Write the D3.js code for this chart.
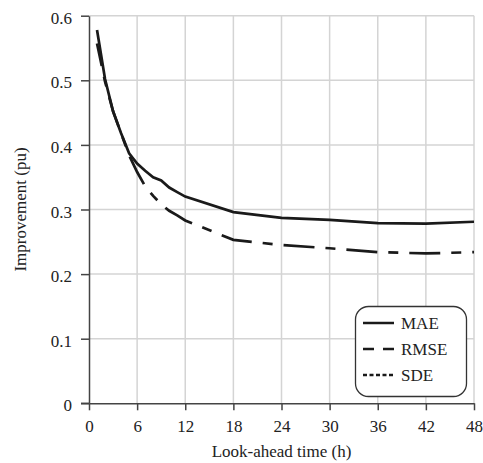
<!DOCTYPE html>
<html><head><meta charset="utf-8">
<script src="https://cdn.jsdelivr.net/npm/d3@7"></script>
<style>body{margin:0;background:#fff}svg{display:block}</style>
</head><body>
<script>
const hours = [1,2,3,4,5,6,7,8,9,10,11,12,18,24,30,36,42,48];
const maeValues  = [0.578,0.502,0.452,0.418,0.387,0.371,0.360,0.350,0.345,0.334,0.327,0.320,0.296,0.287,0.284,0.279,0.278,0.281];
const rmseValues = [0.557,0.498,0.452,0.418,0.384,0.358,0.336,0.321,0.308,0.298,0.291,0.283,0.253,0.245,0.240,0.234,0.232,0.234];
const xTicks = [0,6,12,18,24,30,36,42,48];
const yTicks = [0,0.1,0.2,0.3,0.4,0.5,0.6];
const legendLabels = ["MAE","RMSE","SDE"];

const W=483,H=463;
const FONT="Liberation Serif, Times New Roman, serif";
const svg=d3.select("body").append("svg").attr("width",W).attr("height",H).attr("font-family",FONT);
const x=d3.scaleLinear().domain([0,48]).range([89,474]);
const y=d3.scaleLinear().domain([0,0.6]).range([403.3,15.7]);

// grid
svg.append("g").selectAll("line").data(xTicks.slice(1)).join("line")
  .attr("x1",d=>x(d)).attr("x2",d=>x(d)).attr("y1",y(0)).attr("y2",y(0.6))
  .attr("stroke","#d4d4d4").attr("stroke-width",1.5);
svg.append("g").selectAll("line").data(yTicks.slice(1)).join("line")
  .attr("x1",x(0)).attr("x2",x(48)).attr("y1",d=>y(d)).attr("y2",d=>y(d))
  .attr("stroke","#d4d4d4").attr("stroke-width",1.5);

// axes
const xAxis=svg.append("g").attr("transform",`translate(0,${y(0)})`)
  .call(d3.axisBottom(x).tickValues(xTicks).tickSize(7).tickSizeOuter(0).tickFormat(d3.format("d")));
const yAxis=svg.append("g").attr("transform",`translate(${x(0)},0)`)
  .call(d3.axisLeft(y).tickValues(yTicks).tickSize(8).tickSizeOuter(0).tickFormat(d=>d===0?"0":d3.format(".1f")(d)));
[xAxis,yAxis].forEach(g=>{
  g.attr("font-family",FONT).attr("font-size",17);
  g.selectAll("path").attr("stroke","#444").attr("stroke-width",1.5);
  g.selectAll("line").attr("stroke","#444").attr("stroke-width",1.5);
  g.selectAll("text").attr("fill","#222");
});
xAxis.selectAll("text").attr("y",28.7).attr("dy",0);
yAxis.selectAll("text").attr("x",-17).attr("dy",7.5);
svg.append("line").attr("x1",x(0)-8).attr("x2",x(0)).attr("y1",y(0)).attr("y2",y(0)).attr("stroke","#444").attr("stroke-width",1.5);

// lines
const line=d3.line().x(d=>x(d[0])).y(d=>y(d[1]));
svg.append("path").datum(hours.map((h,i)=>[h,rmseValues[i]]))
  .attr("d",line).attr("fill","none").attr("stroke","#1a1a1a").attr("stroke-width",2.7)
  .attr("stroke-dasharray","31,11,10,11").attr("stroke-dashoffset",8);
svg.append("path").datum(hours.map((h,i)=>[h,maeValues[i]]))
  .attr("d",line).attr("fill","none").attr("stroke","#1a1a1a").attr("stroke-width",2.7);

// axis titles
svg.append("text").attr("x",(x(0)+x(48))/2).attr("y",457).attr("text-anchor","middle")
  .attr("font-size",17).attr("fill","#222").text("Look-ahead time (h)");
svg.append("text").attr("transform",`translate(26,${(y(0)+y(0.6))/2}) rotate(-90)`).attr("text-anchor","middle")
  .attr("font-size",17).attr("fill","#222").text("Improvement (pu)");

// legend
const lg=svg.append("g");
lg.append("rect").attr("x",355.5).attr("y",306.5).attr("width",111).attr("height",90).attr("rx",13)
  .attr("fill","#fff").attr("stroke","#333").attr("stroke-width",1.3);
const dashes=[null,"11,9","4,2.5"];
legendLabels.forEach((lab,i)=>{
  const yy=323+i*26;
  lg.append("line").attr("x1",363).attr("x2",394).attr("y1",yy).attr("y2",yy)
    .attr("stroke","#1a1a1a").attr("stroke-width",2.5).attr("stroke-dasharray",dashes[i]);
  lg.append("text").attr("x",401).attr("y",yy+6).attr("font-size",17)
    .attr("fill","#222").text(lab);
});
</script>
</body></html>
